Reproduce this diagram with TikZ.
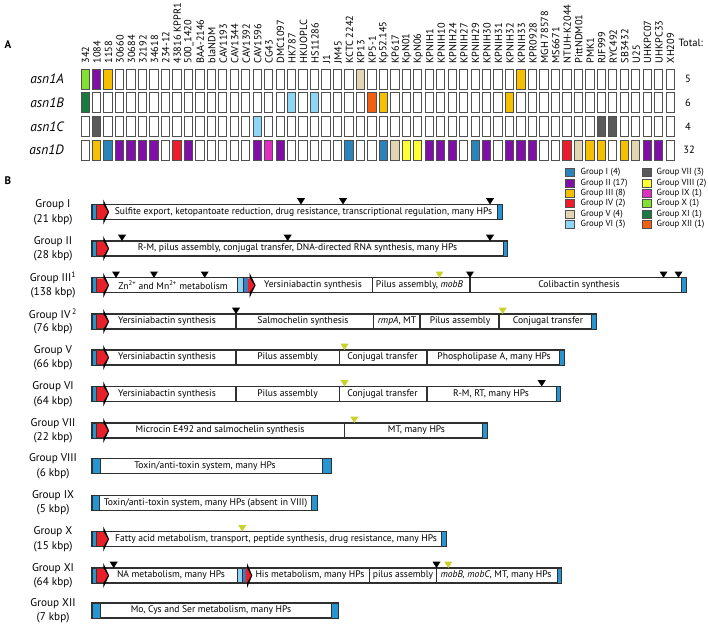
\documentclass[tikz,border=0pt]{standalone}
\usepackage{fontspec}
\setmainfont{PT Sans}
\definecolor{gI}{HTML}{2B83BA}
\definecolor{gII}{HTML}{7F0FA6}
\definecolor{gIII}{HTML}{F5C000}
\definecolor{gIV}{HTML}{EE1C2A}
\definecolor{gV}{HTML}{E2D6B2}
\definecolor{gVI}{HTML}{8ED6F6}
\definecolor{gVII}{HTML}{5A5A5A}
\definecolor{gVIII}{HTML}{FFFF33}
\definecolor{gIX}{HTML}{E030C0}
\definecolor{gX}{HTML}{84E030}
\definecolor{gXI}{HTML}{1A7A40}
\definecolor{gXII}{HTML}{F06010}
\definecolor{boxgray}{HTML}{505050}
\definecolor{barblk}{HTML}{303030}
\definecolor{capblue}{HTML}{2596D1}
\definecolor{lightcap}{HTML}{8FD3F5}
\definecolor{midcap}{HTML}{3A7FC0}
\definecolor{trnared}{HTML}{E8202A}
\definecolor{ygreen}{HTML}{C8D22A}
\tikzset{
  cell/.style={draw=boxgray, line width=0.9pt},
  barline/.style={draw=barblk, line width=1.1pt},
  capst/.style={draw=barblk, line width=0.8pt, fill=capblue},
  bt/.style={font=\fontsize{9.6}{10}\selectfont, inner sep=0pt},
  gl/.style={font=\fontsize{11.2}{12}\selectfont, inner sep=0pt},
  collab/.style={font=\fontsize{10.3}{11}\selectfont, inner sep=0pt, rotate=90, anchor=west},
  rowlab/.style={font=\fontsize{13.5}{14}\selectfont\itshape, inner sep=0pt, anchor=east},
  lg/.style={font=\fontsize{8.8}{9}\selectfont, inner sep=0pt, anchor=west},
  tt/.style={font=\fontsize{10.5}{11}\selectfont, inner sep=0pt},
  panel/.style={font=\fontsize{11}{12}\selectfont\bfseries, inner sep=0pt}
}
\newcommand\cellc[3]{\pgfmathsetmacro\xl{81+(#2-1)*11.47}\draw[cell,fill=#3] (\xl,#1) rectangle ++(8.3,20);}
% bar: y-center, right end
\newcommand\gbar[2]{\draw[barline,fill=white] (92,#1-7.5) rectangle (#2,#1+7.5);}
\newcommand\rcap[3]{\draw[capst] (#2,#1-7.5) rectangle (#3,#1+7.5);}
% tRNA arrow: yc, shaft start, head base, tip
\newcommand\trna[4]{\fill[black] (#3,#1-12.5) -- (#4+0.6,#1) -- (#3,#1+12.5) -- cycle;
  \fill[trnared] (#2,#1-6.9) -- (#3+0.3,#1-6.9) -- (#4-0.6,#1) -- (#3+0.3,#1+6.9) -- (#2,#1+6.9) -- cycle;}
\newcommand\tstart[1]{\draw[capst] (92,#1-7.5) rectangle (96.5,#1+7.5); \trna{#1}{96.9}{103.3}{108.5}}
\newcommand\divl[2]{\draw[barline] (#2,#1-7.5) -- (#2,#1+7.5);}
\newcommand\tri[3]{\fill[#3] (#2-4,#1-13.8) -- (#2+4,#1-13.8) -- (#2,#1-7.5) -- cycle;}
\begin{document}
\begin{tikzpicture}[x=1pt,y=-1pt]
\useasboundingbox (0,0) rectangle (708,625);
\node[panel] (pA) at (8,45) {A};
\node[panel] (pB) at (8,181) {B};
% ---------------- panel A grid
\foreach \t [count=\c] in {342,1084,1158,30660,30684,32192,34618,234-12,43816 KPPR1,500\_1420,BAA-2146,blaNDM,CAV1193,CAV1344,CAV1392,CAV1596,CG43,DMC1097,HK787,HKUOPLC,HS11286,J1,JM45,KCTC 2242,KP13,KP5-1,Kp52.145,KP617,KpN01,KpN06,KPNIH1,KPNIH10,KPNIH24,KPNIH27,KPNIH29,KPNIH30,KPNIH31,KPNIH32,KPNIH33,KPR0928,MGH 78578,MS6671,NTUH-K2044,PittNDM01,PMK1,RJF999,RYC492,SB3432,U25,UHKPC07,UHKPC33,XH209}{
  \pgfmathsetmacro\xc{81+(\c-1)*11.47+4.6}
  \node[collab] (cl\c) at (\xc,63.5) {\t};
}
\foreach \yt in {69,92.6,116.3,140}{
  \foreach \c in {1,...,52}{\cellc{\yt}{\c}{white}}
}
\foreach \c/\cl in {1/gX,2/gII,3/gIII,25/gV,39/gIII}{\cellc{69}{\c}{\cl}}
\foreach \c/\cl in {1/gXI,19/gVI,21/gVI,26/gXII,27/gIII,38/gIII}{\cellc{92.6}{\c}{\cl}}
\foreach \c/\cl in {2/gVII,16/gVI,46/gVII,47/gVII}{\cellc{116.3}{\c}{\cl}}
\foreach \c/\cl in {2/gIII,3/gI,4/gII,5/gII,6/gII,7/gII,9/gIV,10/gII,16/gII,17/gIX,18/gII,24/gI,27/gI,28/gV,29/gVIII,30/gVIII,31/gII,32/gII,33/gII,35/gI,36/gII,38/gII,39/gII,40/gII,43/gIV,44/gV,45/gIII,46/gIII,48/gIII,49/gV,50/gII,51/gII}{\cellc{140}{\c}{\cl}}
\node[rowlab] (rA) at (64,79) {asn1A};
\node[rowlab] (rB) at (64,102.6) {asn1B};
\node[rowlab] (rC) at (64,126.3) {asn1C};
\node[rowlab] (rD) at (64,150) {asn1D};
\node[tt, anchor=west] (tot) at (678.5,43) {Total:};
\node[tt] (tA) at (688,79) {5};
\node[tt] (tB) at (688,102.6) {6};
\node[tt] (tC) at (688,126.3) {4};
\node[tt] (tD) at (689,150) {32};
% ---------------- legend
\foreach \n/\cl/\t [count=\k from 0] in {lI/gI/Group I (4),lII/gII/Group II (17),lIII/gIII/Group III (8),lIV/gIV/Group IV (2),lV/gV/Group V (4),lVI/gVI/Group VI (3)}{
  \pgfmathsetmacro\yy{172.5+10.4*\k}
  \draw[cell, line width=0.7pt, fill=\cl] (565.5,\yy-4) rectangle ++(8.5,8);
  \node[lg] (\n) at (580.5,\yy) {\t};
}
\foreach \n/\cl/\t [count=\k from 0] in {lVII/gVII/Group VII (3),lVIII/gVIII/Group VIII (2),lIX/gIX/Group IX (1),lX/gX/Group X (1),lXI/gXI/Group XI (1),lXII/gXII/Group XII (1)}{
  \pgfmathsetmacro\yy{172.5+10.4*\k}
  \draw[cell, line width=0.7pt, fill=\cl] (642.5,\yy-4) rectangle ++(8.5,8);
  \node[lg] (\n) at (656.5,\yy) {\t};
}
% ---------------- group labels
\foreach \n/\a/\b/\yc in {nI/Group I/(21 kbp)/212, nII/Group II/(28 kbp)/248.5, nIII/Group III\textsuperscript{1}/(138 kbp)/285.3, nIV/Group IV\,\textsuperscript{2}/(76 kbp)/321.5, nV/Group V/(66 kbp)/357.5, nVI/Group VI/(64 kbp)/394, nVII/Group VII/(22 kbp)/430.5, nVIII/Group VIII/(6 kbp)/466, nIX/Group IX/(5 kbp)/502.7, nX/Group X/(15 kbp)/539, nXI/Group XI/(64 kbp)/575.5, nXII/Group XII/(7 kbp)/610.5}{
  \node[gl] (\n a) at (53,\yc-7) {\a};
  \node[gl] (\n b) at (53,\yc+7.5) {\b};
}
% ---------------- Group I
\gbar{212}{502}\tstart{212}\rcap{212}{497.7}{502}
\node[bt] (t1) at (303.5,212) {Sulfite export, ketopantoate reduction, drug resistance, transcriptional regulation, many HPs};
\tri{212}{301}{black}\tri{212}{343}{black}\tri{212}{490}{black}
% ---------------- Group II
\gbar{248.5}{507.5}\tstart{248.5}\rcap{248.5}{503.3}{507.5}
\node[bt] (t2) at (297.5,248.5) {R-M, pilus assembly, conjugal transfer, DNA-directed RNA synthesis, many HPs};
\tri{248.5}{122}{black}\tri{248.5}{287.7}{black}\tri{248.5}{490}{black}
% ---------------- Group III
\gbar{285.3}{686}\tstart{285.3}\rcap{285.3}{681.7}{686}
\node[bt] (t3a) at (173,285.3) {Zn\textsuperscript{2+} and Mn\textsuperscript{2+} metabolism};
\draw[barline, fill=lightcap] (237.7,285.3-7.5) rectangle (244,285.3+7.5);
\fill[midcap] (244,285.3-6.9) rectangle (248,285.3+6.9);
\trna{285.3}{248}{249.5}{255}
\node[bt] (t3b) at (313,285.3) {Yersiniabactin synthesis};
\divl{285.3}{372.3}
\node[bt] (t3c) at (419.5,285.3) {Pilus assembly, \textit{mobB}};
\divl{285.3}{470}
\node[bt] (t3d) at (579,285.3) {Colibactin synthesis};
\tri{285.3}{116}{black}\tri{285.3}{154}{black}\tri{285.3}{204.7}{black}\tri{285.3}{439.5}{ygreen}\tri{285.3}{470}{black}\tri{285.3}{663.5}{black}\tri{285.3}{678.5}{black}
% ---------------- Group IV
\gbar{321.5}{596}\tstart{321.5}\rcap{321.5}{591.7}{596}
\node[bt] (t4a) at (167,321.5) {Yersiniabactin synthesis};
\divl{321.5}{236}
\node[bt] (t4b) at (303,321.5) {Salmochelin synthesis};
\divl{321.5}{373.3}
\node[bt] (t4c) at (397,321.5) {\textit{rmpA}, MT};
\divl{321.5}{420}
\node[bt] (t4d) at (460,321.5) {Pilus assembly};
\divl{321.5}{499}
\node[bt] (t4e) at (548,321.5) {Conjugal transfer};
\tri{321.5}{236}{black}\tri{321.5}{502.7}{ygreen}
% ---------------- Group V
\gbar{357.5}{564}\tstart{357.5}\rcap{357.5}{559.3}{564}
\node[bt] (t5a) at (167,357.5) {Yersiniabactin synthesis};
\divl{357.5}{236}
\node[bt] (t5b) at (287.5,357.5) {Pilus assembly};
\divl{357.5}{339.7}
\node[bt] (t5c) at (382.5,357.5) {Conjugal transfer};
\divl{357.5}{427}
\node[bt] (t5d) at (494,357.5) {Phospholipase A, many HPs};
\tri{357.5}{344.5}{ygreen}
% ---------------- Group VI
\gbar{394}{560.7}\tstart{394}\rcap{394}{556}{560.7}
\node[bt] (t6a) at (167,394) {Yersiniabactin synthesis};
\divl{394}{236}
\node[bt] (t6b) at (287.5,394) {Pilus assembly};
\divl{394}{339.7}
\node[bt] (t6c) at (382.5,394) {Conjugal transfer};
\divl{394}{427}
\node[bt] (t6d) at (491,394) {R-M, RT, many HPs};
\tri{394}{344.5}{ygreen}\tri{394}{541.7}{black}
% ---------------- Group VII
\gbar{430.5}{487}\tstart{430.5}\rcap{430.5}{482.7}{487}
\node[bt] (t7a) at (220,430.5) {Microcin E492 and salmochelin synthesis};
\divl{430.5}{344.7}
\node[bt] (t7b) at (416.5,430.5) {MT, many HPs};
\tri{430.5}{354.3}{ygreen}
% ---------------- Group VIII
\gbar{466}{331}\rcap{466}{92}{100.7}\rcap{466}{322.7}{331}
\node[bt] (t8) at (205,466) {Toxin/anti-toxin system, many HPs};
% ---------------- Group IX
\gbar{502.7}{317.7}\rcap{502.7}{92}{99.3}\rcap{502.7}{311}{317.7}
\node[bt] (t9) at (205.5,502.7) {Toxin/anti-toxin system, many HPs (absent in VIII)};
% ---------------- Group X
\gbar{539}{446}\tstart{539}\rcap{539}{441.7}{446}
\node[bt] (t10) at (276,539) {Fatty acid metabolism, transport, peptide synthesis, drug resistance, many HPs};
\tri{539}{242.3}{ygreen}
% ---------------- Group XI
\gbar{575.5}{561.7}\tstart{575.5}\rcap{575.5}{557.3}{561.7}
\node[bt] (t11a) at (171,575.5) {NA metabolism, many HPs};
\draw[barline, fill=lightcap] (237.7,575.5-7.5) rectangle (243,575.5+7.5);
\fill[midcap] (243,575.5-6.9) rectangle (245.5,575.5+6.9);
\trna{575.5}{245.5}{247}{251.7}
\node[bt] (t11b) at (310,575.5) {His metabolism, many HPs};
\divl{575.5}{369.3}
\node[bt] (t11c) at (403,575.5) {pilus assembly};
\divl{575.5}{436.5}
\node[bt] (t11d) at (496,575.5) {\textit{mobB, mobC}, MT, many HPs};
\tri{575.5}{113.7}{black}\tri{575.5}{436.5}{black}\tri{575.5}{448.3}{ygreen}
% ---------------- Group XII
\gbar{610.5}{338.3}\rcap{610.5}{92}{100}\rcap{610.5}{331.7}{338.3}
\node[bt] (t12) at (211,610.5) {Mo, Cys and Ser metabolism, many HPs};
\end{tikzpicture}
\end{document}
